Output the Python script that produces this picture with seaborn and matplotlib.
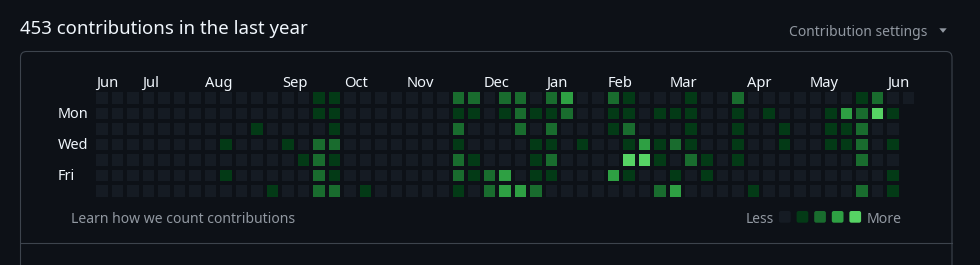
import numpy as np
import pandas as pd
import matplotlib
matplotlib.use("Agg")
import matplotlib.pyplot as plt
import seaborn as sns
from matplotlib.colors import ListedColormap
from matplotlib.patches import FancyBboxPatch, Polygon
from matplotlib.transforms import blended_transform_factory

# ---------------- data ----------------
title = "453 contributions in the last year"
settings_label = "Contribution settings"
footer_link = "Learn how we count contributions"
less_label, more_label = "Less", "More"

weekdays = ["Sun", "Mon", "Tue", "Wed", "Thu", "Fri", "Sat"]
day_labels = ["", "Mon", "", "Wed", "", "Fri", ""]
month_labels = ["Jun", "Jul", "Aug", "Sep", "Oct", "Nov", "Dec",
                "Jan", "Feb", "Mar", "Apr", "May", "Jun"]
month_cols = [0, 3, 7, 12, 16, 20, 25, 29, 33, 37, 42, 46, 51]

# contribution level (0-4) per week column, one list per weekday row
sun = [0,0,0,0,0,0,0,0, 0,0,0,0,0,0,1,1, 0,0,0,0,0,0,0,2, 2,0,2,2,0,2,3,0,
       0,2,1,0,0,0,1,0, 0,2,0,0,0,0,0,0, 0,1,2,0,0]
mon = [0,0,0,0,0,0,0,0, 0,0,0,0,0,0,1,1, 0,0,0,0,0,0,0,1, 1,0,1,2,1,1,2,0,
       0,1,1,0,1,1,1,0, 0,1,0,1,0,0,0,1, 3,2,4,1]
tue = [0,0,0,0,0,0,0,0, 0,0,1,0,0,0,0,1, 0,0,0,0,0,0,0,2, 0,0,0,2,0,2,0,0,
       0,1,2,0,0,0,1,0, 0,1,0,0,1,0,0,1, 1,2,0,0]
wed = [0,0,0,0,0,0,0,0, 1,0,0,0,1,0,2,2, 0,0,0,0,0,0,0,1, 0,0,0,0,1,1,0,1,
       0,0,1,3,1,2,1,0, 0,1,0,0,1,0,0,1, 1,2,0,1]
thu = [0,0,0,0,0,0,0,0, 0,0,0,0,0,1,2,1, 0,0,0,0,0,0,0,2, 1,0,0,0,1,2,0,0,
       0,0,4,4,1,0,2,1, 0,1,0,0,0,0,0,0, 0,2,0,0]
fri = [0,0,0,0,0,0,0,0, 1,0,0,0,0,0,2,1, 0,0,0,0,0,0,0,2, 1,2,3,0,1,1,0,0,
       0,3,1,0,0,1,0,1, 0,0,0,0,0,0,0,0, 0,0,0,1]
sat = [0,0,0,0,0,0,0,0, 0,0,0,1,0,0,2,2, 0,1,0,0,0,0,0,1, 0,2,3,3,2,0,0,0,
       0,0,0,0,2,3,0,0, 0,0,1,0,0,0,0,0, 0,2,0,1]
legend_levels = [0, 1, 2, 3, 4]

# ---------------- style ----------------
BG = "#0d1117"
BORDER = "#3d444d"
FG = "#f0f6fc"
MUTED = "#9198a1"
LEVEL_COLORS = ["#151b23", "#033a16", "#196c2e", "#2ea043", "#56d364"]

plt.rcParams["font.family"] = ["Noto Sans", "DejaVu Sans"]

W, H = 980, 265
fig = plt.figure(figsize=(W / 100, H / 100), dpi=100, facecolor=BG)
bg = fig.add_axes([0, 0, 1, 1])
bg.set_xlim(0, W)
bg.set_ylim(H, 0)
bg.axis("off")
bg.set_facecolor(BG)

# container box + divider
bg.add_patch(FancyBboxPatch((20.5, 51.5), 931.5, 280,
                            boxstyle="round,pad=0,rounding_size=6",
                            fc="none", ec=BORDER, lw=0.8))
bg.plot([20.5, 952], [242.5, 242.5], color=BORDER, lw=0.8)

# ---------------- heatmap ----------------
rows = [sun, mon, tue, wed, thu, fri, sat]
ncols = len(sun)
mat = np.full((7, ncols), np.nan)
for r, vals in enumerate(rows):
    mat[r, :len(vals)] = vals
df = pd.DataFrame(mat, index=weekdays)

PITCH_X, PITCH_Y, GAP = 15.51, 15.5, 3.8
left, top = 96 - GAP / 2, 92.3 - GAP / 2
hax = fig.add_axes([left / W, 1 - (top + 7 * PITCH_Y) / H,
                    ncols * PITCH_X / W, 7 * PITCH_Y / H])
sns.heatmap(df, ax=hax, cmap=ListedColormap(LEVEL_COLORS), vmin=-0.5, vmax=4.5,
            cbar=False, linewidths=GAP * 0.72, linecolor=BG,
            xticklabels=False, yticklabels=False)
hax.set_xlabel("")
hax.set_ylabel("")
hax.set_facecolor(BG)
hax.tick_params(length=0)
for s in hax.spines.values():
    s.set_visible(False)

renderer = fig.canvas.get_renderer()


def fit(t, width):
    bb = t.get_window_extent(renderer)
    t.set_fontsize(t.get_fontsize() * width / bb.width)
    return t.get_fontsize()


# month labels
tr_month = blended_transform_factory(hax.transData, bg.transData)
probe = bg.text(0, 0, "Jun", fontsize=10)
msize = fit(probe, 22.3)
probe.remove()
cell_off = (GAP / 2) / PITCH_X
for c, lab in zip(month_cols, month_labels):
    hax.text(c + cell_off, 87, lab, transform=tr_month, color=FG,
             fontsize=msize, ha="left", va="baseline", clip_on=False)

# day labels
tr_day = blended_transform_factory(bg.transData, hax.transData)
probe = bg.text(0, 0, "Mon", fontsize=10)
dsize = fit(probe, 30.7)
probe.remove()
for r, lab in enumerate(day_labels):
    if lab:
        hax.text(58, r + 0.76, lab, transform=tr_day, color=FG,
                 fontsize=dsize, ha="left", va="baseline", clip_on=False)

# header
t = bg.text(20, 33.7, title, color=FG, fontsize=14, ha="left", va="baseline")
fit(t, 287)
t = bg.text(927.5, 36, settings_label, color=MUTED, fontsize=11,
            ha="right", va="baseline")
fit(t, 138.7)
bg.add_patch(Polygon([(939.3, 28.3), (946.7, 28.3), (943, 32.8)],
                     closed=True, fc=MUTED, ec="none"))

# footer
t = bg.text(70.6, 223, footer_link, color=MUTED, fontsize=11,
            ha="left", va="baseline")
fit(t, 225)
t = bg.text(746, 222.7, less_label, color=MUTED, fontsize=11,
            ha="left", va="baseline")
fit(t, 28.3)
t = bg.text(866.7, 222.7, more_label, color=MUTED, fontsize=11,
            ha="left", va="baseline")
fit(t, 35)
for i, lv in enumerate(legend_levels):
    bg.add_patch(FancyBboxPatch((779 + i * 17.6, 211), 11.7, 11.7,
                                boxstyle="round,pad=0,rounding_size=2",
                                fc=LEVEL_COLORS[lv], ec="none"))

fig.savefig("out.png", dpi=100, facecolor=BG)
